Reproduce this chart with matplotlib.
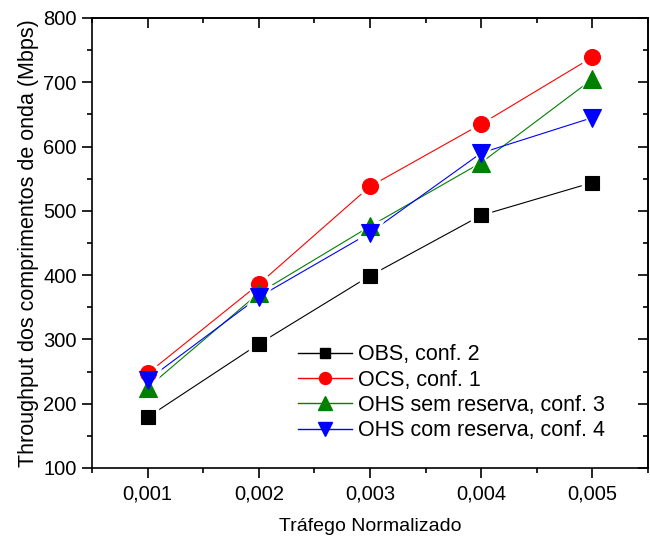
import matplotlib
matplotlib.use("Agg")
import matplotlib.pyplot as plt
from matplotlib.lines import Line2D
from matplotlib.ticker import MultipleLocator, FuncFormatter

plt.rcParams['font.family'] = ['Liberation Sans', 'DejaVu Sans']

x = [0.001, 0.002, 0.003, 0.004, 0.005]
obs = [179, 293, 399, 493, 544]
ocs = [247, 386, 538, 635, 739]
ohs_sem = [225, 372, 476, 575, 705]
ohs_com = [237, 366, 466, 590, 645]

labels = ["OBS, conf. 2", "OCS, conf. 1", "OHS sem reserva, conf. 3", "OHS com reserva, conf. 4"]
series = [obs, ocs, ohs_sem, ohs_com]
colors = ["black", "red", "green", "blue"]
markers = ["s", "o", "^", "v"]
msizes = [10.5, 11.5, 13.5, 13.5]

fig = plt.figure(figsize=(6.5, 5.41), dpi=100)
ax = fig.add_axes([92/650, 1-468/541, (648-92)/650, (468-18)/541])

for ys, c, m, ms in zip(series, colors, markers, msizes):
    ax.plot(x, ys, color=c, lw=0.8, zorder=1)
    ax.plot(x, ys, ls='none', marker=m, ms=ms+4.5, mfc='white', mec='white', zorder=2)
for ys, c, m, ms in zip(series, colors, markers, msizes):
    ax.plot(x, ys, ls='none', marker=m, ms=ms, mfc=c, mec=c, mew=0.8, zorder=3)

ax.set_xlim(0.0005, 0.0055)
ax.set_ylim(100, 800)
ax.xaxis.set_major_locator(MultipleLocator(0.001))
ax.xaxis.set_minor_locator(MultipleLocator(0.0005))
ax.yaxis.set_major_locator(MultipleLocator(100))
ax.yaxis.set_minor_locator(MultipleLocator(50))
ax.xaxis.set_major_formatter(FuncFormatter(lambda v, p: f"{v:.3f}".replace('.', ',')))
ax.tick_params(which='major', direction='out', length=7, width=1.2, labelsize=14.5, top=False, right=False)
ax.tick_params(which='minor', direction='out', length=3.5, width=1.2, top=False, right=False)
ax.tick_params(axis='x', pad=5)
ax.tick_params(axis='y', pad=4)

# mirrored inward ticks on top / right
top = ax.secondary_xaxis('top')
top.xaxis.set_major_locator(MultipleLocator(0.001))
top.xaxis.set_minor_locator(MultipleLocator(0.0005))
top.tick_params(which='major', direction='in', length=7, width=1.2, labeltop=False)
top.tick_params(which='minor', direction='in', length=3.5, width=1.2)
right = ax.secondary_yaxis('right')
right.yaxis.set_major_locator(MultipleLocator(100))
right.yaxis.set_minor_locator(MultipleLocator(50))
right.tick_params(which='major', direction='in', length=7, width=1.2, labelright=False)
right.tick_params(which='minor', direction='in', length=3.5, width=1.2)

for s in ax.spines.values():
    s.set_linewidth(1.2)
top.spines['top'].set_linewidth(1.2)
right.spines['right'].set_linewidth(1.2)

ax.set_xlabel("Tráfego Normalizado", fontsize=14, labelpad=10)
ax.set_ylabel("Throughput dos comprimentos de onda (Mbps)", fontsize=15.5, labelpad=3)

handles = [Line2D([], [], color=c, lw=1.0, marker=m, ms=ms*0.75, mfc=c, mec=c)
           for c, m, ms in zip(colors, markers, msizes)]
ax.legend(handles, labels, loc='upper left', bbox_to_anchor=(0.370, 0.275), frameon=False,
          fontsize=15.5, handlelength=2.5, handletextpad=0.3, labelspacing=0.2,
          borderaxespad=0.0, borderpad=0.0)

fig.savefig("out.png", dpi=100)
